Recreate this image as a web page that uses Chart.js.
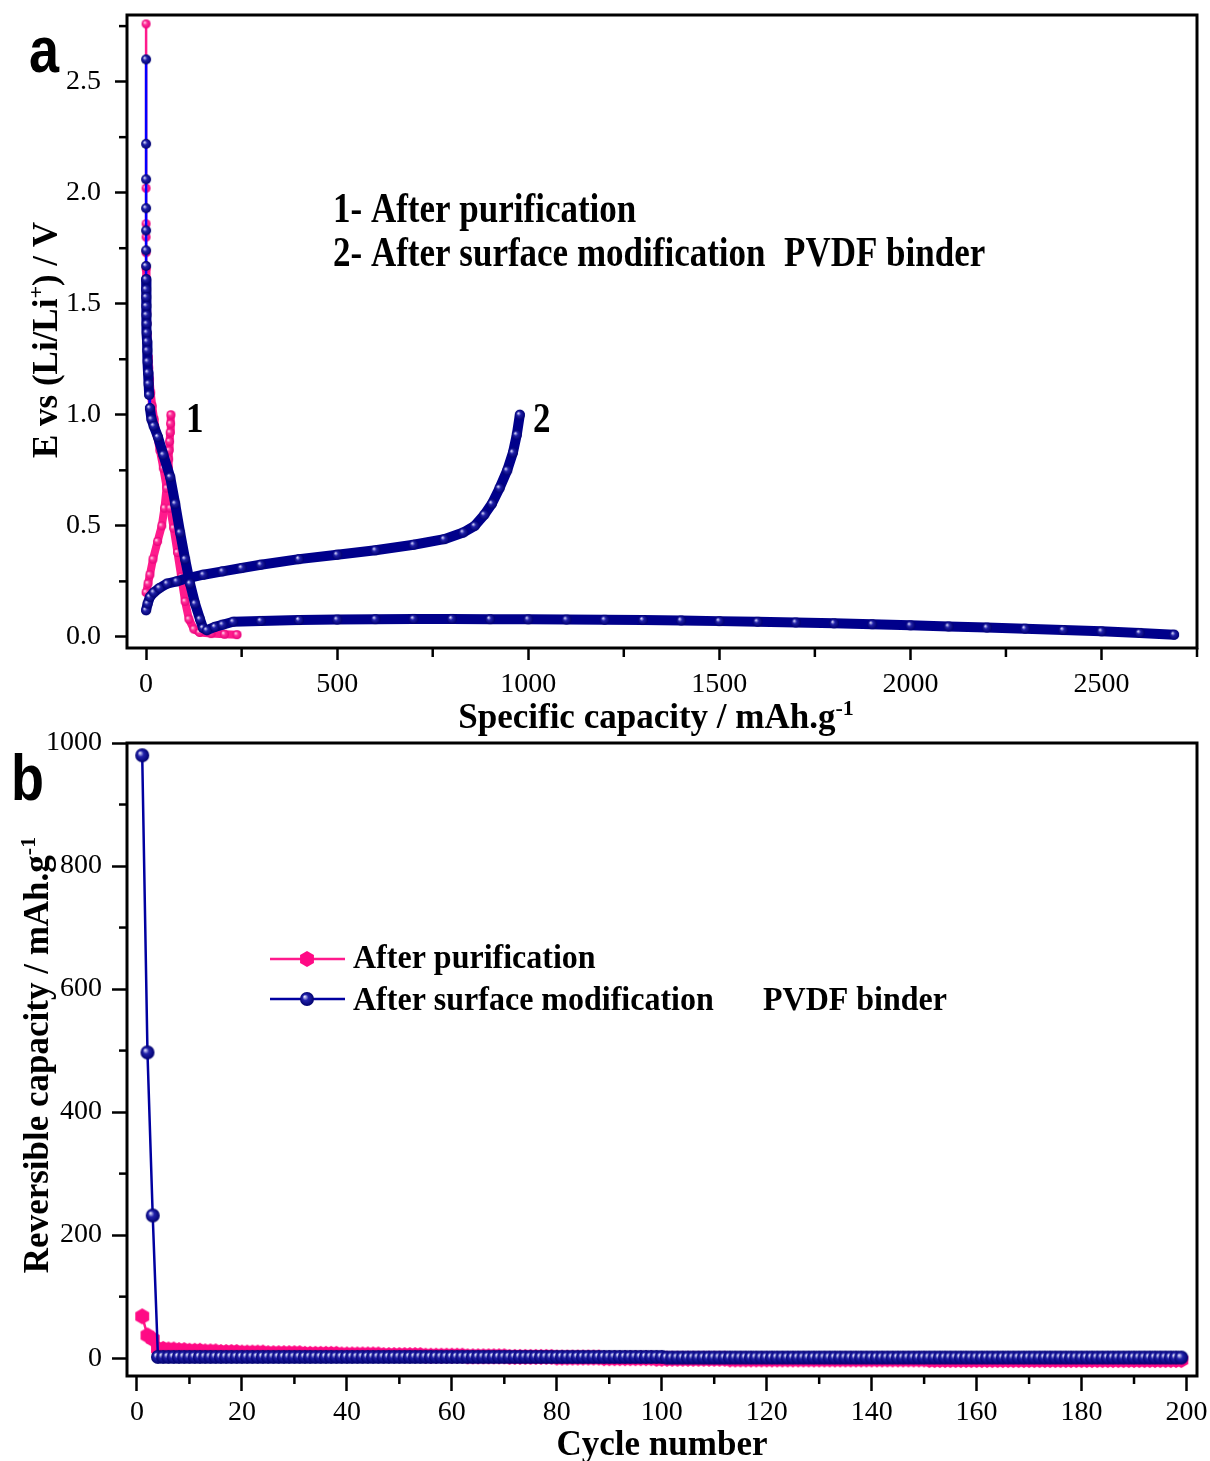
<!DOCTYPE html>
<html>
<head>
<meta charset="utf-8">
<script src="https://cdn.jsdelivr.net/npm/chart.js@4.4.1/dist/chart.umd.min.js"></script>
<style>
body{margin:0;background:#fff;}
#hoja{position:relative;width:1210px;height:1461px;}
canvas{position:absolute;left:0;}
#graficaA{top:0;}
#graficaB{top:700px;}
</style>
</head>
<body>
<div id="hoja">
<canvas id="graficaA" width="1210" height="745"></canvas>
<canvas id="graficaB" width="1210" height="761"></canvas>
</div>
<script>

// (a) curvas de descarga / carga: capacidad (mAh/g) y potencial (V)
var descPurCap = [0,0,0,0,0,0,0.3,0.6,1,1.5,2,2.5,3.5,5,7,9,12,16,21,28,36,45,54,63,72,82,92,102,112,125,140,170,205,238];
var descPurE   = [2.76,2.02,1.86,1.80,1.73,1.66,1.61,1.56,1.51,1.46,1.41,1.36,1.31,1.26,1.21,1.16,1.10,1.04,0.98,0.91,0.84,0.76,0.67,0.58,0.49,0.38,0.27,0.16,0.08,0.035,0.02,0.015,0.012,0.01];
var cargaPurCap = [0,5,10,18,30,41,48,54,58,59,60,61.5,63,64,65];
var cargaPurE   = [0.20,0.24,0.28,0.35,0.43,0.50,0.58,0.68,0.76,0.80,0.84,0.88,0.92,0.96,1.0];

var descModCap = [0,0,0,0,0,0,0,0,0,0.3,0.6,1,1.5,2,2.5,3,4,5,6.5,8,10,14,20,31,45,63,76,89,102,115,128,141,149,159,180,200,228,300,400,500,600,700,800,900,1000,1100,1200,1300,1400,1500,1600,1700,1800,1900,2000,2100,2200,2300,2400,2500,2600,2690];
var descModE   = [2.60,2.22,2.06,1.93,1.83,1.74,1.67,1.61,1.565,1.53,1.49,1.45,1.41,1.37,1.33,1.29,1.24,1.19,1.14,1.09,1.03,0.98,0.95,0.90,0.82,0.72,0.60,0.47,0.35,0.24,0.15,0.08,0.04,0.03,0.045,0.055,0.068,0.072,0.076,0.078,0.08,0.081,0.081,0.08,0.079,0.078,0.077,0.076,0.074,0.071,0.068,0.065,0.061,0.057,0.052,0.047,0.042,0.037,0.031,0.025,0.018,0.01];
var cargaModCap = [0,4,10,20,35,55,80,110,150,200,250,300,400,500,600,700,780,830,860,885,905,925,945,960,970,978];
var cargaModE   = [0.12,0.15,0.18,0.20,0.22,0.24,0.25,0.265,0.28,0.295,0.31,0.325,0.35,0.37,0.39,0.415,0.44,0.47,0.50,0.55,0.60,0.67,0.75,0.83,0.91,1.0];

var marcasXa = [0,500,1000,1500,2000,2500];
var marcasYa = [0,0.5,1.0,1.5,2.0,2.5];

// (b) capacidad reversible por ciclo (ciclo 1 en adelante)
var capPurificado = [
68,37,31,15,15,14,14,13,13,12,12,12,11,11,11,10,10,10,10,9,
9,9,9,9,8,8,8,8,8,8,8,7,7,7,7,7,7,7,6,6,
6,6,6,6,6,6,5,5,5,5,5,5,5,5,4,4,4,4,4,4,
4,4,3,3,3,3,3,3,3,3,2,2,2,2,2,2,2,2,2,1,
1,1,1,1,1,1,1,1,0,0,0,0,0,0,0,0,0,0,-1,-1,
-1,-1,-1,-1,-1,-1,-1,-1,-1,-1,-1,-1,-2,-2,-2,-2,-2,-2,-2,-2,
-2,-2,-2,-2,-2,-2,-2,-2,-2,-2,-2,-2,-2,-2,-2,-2,-2,-2,-2,-2,
-2,-2,-2,-2,-2,-2,-2,-2,-2,-2,-3,-3,-3,-3,-3,-3,-3,-3,-3,-3,
-3,-3,-3,-3,-3,-3,-3,-3,-3,-3,-3,-3,-3,-3,-3,-3,-3,-3,-3,-3,
-3,-3,-3,-3,-3,-3,-3,-3,-3,-3,-3,-3,-3,-3,-3,-3,-3,-3,-3
];
var capModificado = [
980,497,232,2,2,2,2,2,2,2,2,2,2,2,2,2,2,2,2,2,
2,2,2,2,2,2,2,2,2,2,2,2,2,2,2,2,2,2,2,2,
2,2,2,2,2,2,2,2,2,2,2,2,2,2,2,2,2,2,2,2,
2,2,2,2,2,2,2,2,2,2,2,2,2,2,2,2,2,2,2,2,
2,2,2,2,2,2,2,2,2,2,2,2,2,2,2,2,2,2,2,2,
1,1,1,1,1,1,1,1,1,1,1,1,1,1,1,1,1,1,1,1,
1,1,1,1,1,1,1,1,1,1,1,1,1,1,1,1,1,1,1,1,
1,1,1,1,1,1,1,1,1,1,1,1,1,1,1,1,1,1,1,1,
1,1,1,1,1,1,1,1,1,1,1,1,1,1,1,1,1,1,1,1,
1,1,1,1,1,1,1,1,1,1,1,1,1,1,1,1,1,1,1
];

var marcasXb = [0,20,40,60,80,100,120,140,160,180,200];
var marcasYb = [0,200,400,600,800,1000];

var nombres = ['After purification', 'After surface modification'];


function pares(xs, ys){
	var r = [];
	for (var i = 0; i < xs.length; i++) r.push({x: xs[i], y: ys[i]});
	return r;
}

function porCiclo(ys){
	var r = [];
	for (var i = 0; i < ys.length; i++) r.push({x: i + 1, y: ys[i]});
	return r;
}

function crearEsfera(radio, luz, medio, borde){
	var c = document.createElement('canvas');
	var t = Math.ceil(radio * 2 + 2);
	c.width = t; c.height = t;
	var g = c.getContext('2d');
	var m = t / 2;
	var grad = g.createRadialGradient(m - radio * 0.35, m - radio * 0.35, radio * 0.05, m, m, radio);
	grad.addColorStop(0, luz);
	grad.addColorStop(0.4, medio);
	grad.addColorStop(1, borde);
	g.fillStyle = grad;
	g.beginPath(); g.arc(m, m, radio, 0, Math.PI * 2); g.fill();
	return c;
}

function crearHexagono(radio, color){
	var c = document.createElement('canvas');
	var t = Math.ceil(radio * 2 + 2);
	c.width = t; c.height = t;
	var g = c.getContext('2d');
	var m = t / 2;
	g.fillStyle = color;
	g.beginPath();
	for (var k = 0; k < 6; k++) {
		var ang = -Math.PI / 2 + k * Math.PI / 3;
		g.lineTo(m + radio * Math.cos(ang), m + radio * Math.sin(ang));
	}
	g.closePath(); g.fill();
	return c;
}

var esferaAzulA = crearEsfera(5, '#e0e0ff', '#2020a8', '#000070');
var esferaRosaA = crearEsfera(4.5, '#ffe0f0', '#ff3399', '#e8007a');
var esferaAzulB = crearEsfera(7, '#e8e8ff', '#2222aa', '#00006e');
var hexRosa = crearHexagono(8, '#ff0a85');

// tramos verticales sueltos (arriba, en capacidad 0) van finos; el resto es la banda de puntos
function tramoFino(ctx){
	return Math.abs(ctx.p1.x - ctx.p0.x) < 1 && Math.abs(ctx.p1.y - ctx.p0.y) > 12;
}
function segmento(grueso, fino, colorGrueso, colorFino){
	return {
		borderWidth: function(ctx){ return tramoFino(ctx) ? fino : grueso; },
		borderColor: function(ctx){ return tramoFino(ctx) ? colorFino : colorGrueso; }
	};
}

var SERIF = '"Liberation Serif", "Times New Roman", serif';

function escribir(ctx, partes, x, y, alinear, escalaY, rotar){
	ctx.save();
	ctx.fillStyle = '#000';
	ctx.textBaseline = 'alphabetic';
	ctx.textAlign = 'left';
	var total = 0;
	partes.forEach(function(p){ ctx.font = p[1]; total += ctx.measureText(p[0]).width; });
	ctx.translate(x, y);
	if (rotar) ctx.rotate(-Math.PI / 2);
	ctx.scale(1, escalaY || 1);
	var pos = alinear === 'center' ? -total / 2 : 0;
	partes.forEach(function(p){
		ctx.font = p[1];
		ctx.fillText(p[0], pos, -(p[2] || 0));
		pos += ctx.measureText(p[0]).width;
	});
	ctx.restore();
}

function marcoYMarcas(largoX, largoY){
	return {
		id: 'marco',
		afterDraw: function(chart){
			var ctx = chart.ctx, a = chart.chartArea;
			ctx.save();
			ctx.strokeStyle = '#000';
			ctx.lineWidth = 2.5;
			['x', 'y'].forEach(function(id){
				var esc = chart.scales[id];
				var t = esc.ticks;
				var paso = t[1].value - t[0].value;
				for (var v = t[0].value - paso / 2; v <= esc.max + 1e-9; v += paso) {
					if (v < esc.min) continue;
					var p = esc.getPixelForValue(v);
					ctx.beginPath();
					if (id === 'x') { ctx.moveTo(p, a.bottom); ctx.lineTo(p, a.bottom + largoX); }
					else { ctx.moveTo(a.left, p); ctx.lineTo(a.left - largoY, p); }
					ctx.stroke();
				}
			});
			ctx.lineWidth = 3;
			ctx.strokeRect(a.left, a.top, a.right - a.left, a.bottom - a.top);
			ctx.restore();
		}
	};
}

function ejes(xMin, xMax, marcasX, yMin, yMax, marcasY, largo, altoX, formatoY, padX, padY){
	var comun = {
		grid: {drawOnChartArea: false, drawTicks: true, tickLength: largo, tickWidth: 2.5, tickColor: '#000'},
		border: {display: false}
	};
	return {
		x: Object.assign({}, comun, {
			type: 'linear', min: xMin, max: xMax,
			afterBuildTicks: function(e){ e.ticks = marcasX.map(function(v){ return {value: v}; }); },
			ticks: {color: '#000', padding: padX, maxRotation: 0, autoSkip: false,
				font: {family: SERIF, size: 28},
				callback: function(v){ return '' + v; }},
			afterFit: function(e){ e.height = altoX; e.paddingLeft = 0; e.paddingRight = 0; }
		}),
		y: Object.assign({}, comun, {
			type: 'linear', min: yMin, max: yMax,
			afterBuildTicks: function(e){ e.ticks = marcasY.map(function(v){ return {value: v}; }); },
			ticks: {color: '#000', padding: padY, autoSkip: false,
				font: {family: SERIF, size: 28},
				callback: formatoY},
			afterFit: function(e){ e.width = 127; e.paddingTop = 0; e.paddingBottom = 0; }
		})
	};
}

// ---------- (a) ----------
var textosA = {
	id: 'textosA',
	afterDraw: function(chart){
		var ctx = chart.ctx;
		var B = 'bold 35px ' + SERIF;
		escribir(ctx, [['a', 'bold 54px "Liberation Sans", Arial, sans-serif']], 29, 72, 'left', 1.2);
		escribir(ctx, [['1- After purification', B]], 333, 222, 'left', 1.22);
		escribir(ctx, [['2- After surface modification', B]], 333, 266, 'left', 1.22);
		escribir(ctx, [['PVDF binder', B]], 784, 266, 'left', 1.22);
		escribir(ctx, [['1', B]], 186, 432, 'left', 1.22);
		escribir(ctx, [['2', B]], 533, 432, 'left', 1.22);
		escribir(ctx, [['Specific capacity / mAh.g', B], ['-1', 'bold 22px ' + SERIF, 13]], 656, 728, 'center', 1);
		escribir(ctx, [['E vs (Li/Li', B], ['+', 'bold 22px ' + SERIF, 14], [') / V', B]], 57, 340, 'center', 1, true);
	}
};

var graficaA = new Chart(document.getElementById('graficaA'), {
	type: 'scatter',
	data: {
		datasets: [{
			label: nombres[1],
			data: pares(descModCap, descModE),
			showLine: true, order: 1,
			borderColor: '#00008b', borderCapStyle: 'round', borderJoinStyle: 'round',
			segment: segmento(10, 2.5, '#00008b', '#0000ff'),
			pointStyle: esferaAzulA
		}, {
			label: nombres[1],
			data: pares(cargaModCap, cargaModE),
			showLine: true, order: 1,
			borderColor: '#00008b', borderCapStyle: 'round', borderJoinStyle: 'round',
			segment: segmento(10, 2.5, '#00008b', '#0000ff'),
			pointStyle: esferaAzulA
		}, {
			label: nombres[0],
			data: pares(descPurCap, descPurE),
			showLine: true, order: 2,
			borderColor: '#ff1a8c', borderCapStyle: 'round', borderJoinStyle: 'round',
			segment: segmento(8, 2.5, '#ff1a8c', '#ff1a8c'),
			pointStyle: esferaRosaA
		}, {
			label: nombres[0],
			data: pares(cargaPurCap, cargaPurE),
			showLine: true, order: 2,
			borderColor: '#ff1a8c', borderCapStyle: 'round', borderJoinStyle: 'round',
			segment: segmento(8, 2.5, '#ff1a8c', '#ff1a8c'),
			pointStyle: esferaRosaA
		}]
	},
	options: {
		responsive: false, animation: false, devicePixelRatio: 1,
		layout: {padding: {left: 0, top: 15, right: 13, bottom: 0}},
		plugins: {legend: {display: false}, tooltip: {enabled: false}},
		scales: ejes(-50, 2750, marcasXa, -0.05, 2.8, marcasYa, 12, 97,
			function(v){ return v.toFixed(1); }, 8, 14)
	},
	plugins: [marcoYMarcas(9, 8), textosA]
});

// ---------- (b) ----------
var textosB = {
	id: 'textosB',
	afterDraw: function(chart){
		var ctx = chart.ctx;
		var B = 'bold 35px ' + SERIF;
		var L = 'bold 32px ' + SERIF;
		escribir(ctx, [['b', 'bold 54px "Liberation Sans", Arial, sans-serif']], 11, 100, 'left', 1.2);
		// leyenda
		ctx.save();
		ctx.lineWidth = 2.5;
		ctx.strokeStyle = '#ff1a8c';
		ctx.beginPath(); ctx.moveTo(270, 259); ctx.lineTo(345, 259); ctx.stroke();
		ctx.drawImage(hexRosa, 307 - hexRosa.width / 2, 259 - hexRosa.height / 2);
		ctx.strokeStyle = '#0000a0';
		ctx.beginPath(); ctx.moveTo(270, 299); ctx.lineTo(345, 299); ctx.stroke();
		ctx.drawImage(esferaAzulB, 307 - esferaAzulB.width / 2, 299 - esferaAzulB.height / 2);
		ctx.restore();
		escribir(ctx, [[nombres[0], L]], 353, 268, 'left', 1.05);
		escribir(ctx, [[nombres[1], L]], 353, 310, 'left', 1.05);
		escribir(ctx, [['PVDF binder', L]], 763, 310, 'left', 1.05);
		escribir(ctx, [['Cycle number', B]], 662, 755, 'center', 1);
		escribir(ctx, [['Reversible capacity / mAh.g', B], ['-1', 'bold 22px ' + SERIF, 13]], 48, 355, 'center', 1, true);
	}
};

var graficaB = new Chart(document.getElementById('graficaB'), {
	type: 'scatter',
	data: {
		datasets: [{
			label: nombres[1],
			data: porCiclo(capModificado),
			showLine: true, order: 1,
			borderColor: '#0000a0', borderWidth: 2.5,
			pointStyle: esferaAzulB
		}, {
			label: nombres[0],
			data: porCiclo(capPurificado),
			showLine: true, order: 2,
			borderColor: '#ff1a8c', borderWidth: 2.5,
			pointStyle: hexRosa
		}]
	},
	options: {
		responsive: false, animation: false, devicePixelRatio: 1,
		layout: {padding: {left: 0, top: 43, right: 13, bottom: 0}},
		plugins: {legend: {display: false}, tooltip: {enabled: false}},
		scales: ejes(-1.9, 202, marcasXb, -29, 1000, marcasYb, 15, 85,
			function(v){ return '' + v; }, 5, 10)
	},
	plugins: [marcoYMarcas(8, 8), textosB]
});
</script>
</body>
</html>
